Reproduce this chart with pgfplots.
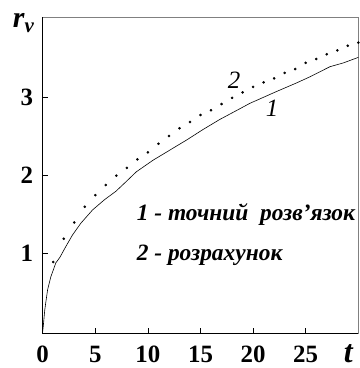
\documentclass[border=0pt]{standalone}
\usepackage{fontspec}
\setmainfont{Liberation Serif}
\usepackage{pgfplots}
\pgfplotsset{compat=1.18}

% exact solution (line 1)
\pgfplotstableread{
t r
0.00 0.00
0.05 0.06
0.20 0.28
0.46 0.53
0.77 0.70
1.25 0.88
1.63 0.95
2.20 1.09
2.84 1.24
3.63 1.39
4.74 1.56
5.86 1.69
6.96 1.80
7.90 1.92
8.90 2.05
10.5 2.20
12.1 2.33
13.7 2.46
15.2 2.59
16.8 2.72
18.6 2.85
19.7 2.93
22.2 3.08
24.1 3.19
25.4 3.27
27.3 3.40
28.6 3.45
30.0 3.52
}\exact

% computed values (points 2)
\pgfplotstableread{
t r
1 0.89
2 1.19
3 1.40
4 1.60
5 1.75
6 1.88
7 2.00
8 2.10
9 2.21
10 2.30
11 2.41
12 2.51
13 2.61
14 2.69
15 2.78
16 2.84
17 2.92
18 3.00
19 3.07
20 3.14
21 3.20
22 3.25
23 3.32
24 3.37
25 3.45
26 3.50
27 3.56
28 3.61
29 3.67
30 3.71
}\calc

\begin{document}
\begin{tikzpicture}
\path[use as bounding box] (-42.7bp,-34.7bp) rectangle (317.3bp,333.3bp);
\begin{axis}[
  at={(0,0)}, anchor=south west,
  scale only axis,
  width=315.6bp, height=316bp,
  xmin=0, xmax=30, ymin=-0.025, ymax=4.035,
  xtick={0,5,10,15,20,25}, ytick={1,2,3},
  xtick pos=bottom, ytick pos=left,
  tick align=inside,
  major tick length=5bp,
  tick style={black, line width=0.8pt},
  axis line style={gray, line width=0.6pt},
  xticklabel style={font=\bfseries\fontsize{25}{25}\selectfont, anchor=north, yshift=-9bp},
  yticklabel style={font=\bfseries\fontsize{25}{25}\selectfont, anchor=east, xshift=-6bp},
  clip=false,
  /pgf/number format/assume math mode=true,
]
\addplot[black, line width=0.6pt] table[x=t, y=r] {\exact};
\addplot[only marks, mark=*, mark size=1.1pt, black] table[x=t, y=r] {\calc};

\draw[black, line width=1.2pt] (rel axis cs:0,1) -- (rel axis cs:0,0) -- (rel axis cs:1,0);

\node[anchor=center, font=\itshape\fontsize{25}{25}\selectfont] at (axis cs:18.19,3.23) {2};
\node[anchor=center, font=\itshape\fontsize{25}{25}\selectfont] at (axis cs:21.8,2.87) {1};

\node[anchor=base west, inner sep=0pt, font=\bfseries\itshape\fontsize{23.5}{23.5}\selectfont] at (axis cs:8.93,1.418) {1 - точний\ \ розв'язок};
\node[anchor=base west, inner sep=0pt, font=\bfseries\itshape\fontsize{23.5}{23.5}\selectfont] at (axis cs:8.93,0.916) {2 - розрахунок};

\node[anchor=base west, inner sep=0pt, font=\bfseries\itshape\fontsize{30}{30}\selectfont] at (rel axis cs:0,1) [xshift=-30bp, yshift=-10bp] {r\raisebox{-5bp}{\fontsize{21}{21}\selectfont v}};
\node[anchor=base west, inner sep=0pt, font=\bfseries\itshape\fontsize{32}{32}\selectfont] at (rel axis cs:0,0) [xshift=301bp, yshift=-29bp] {t};
\end{axis}
\end{tikzpicture}
\end{document}
